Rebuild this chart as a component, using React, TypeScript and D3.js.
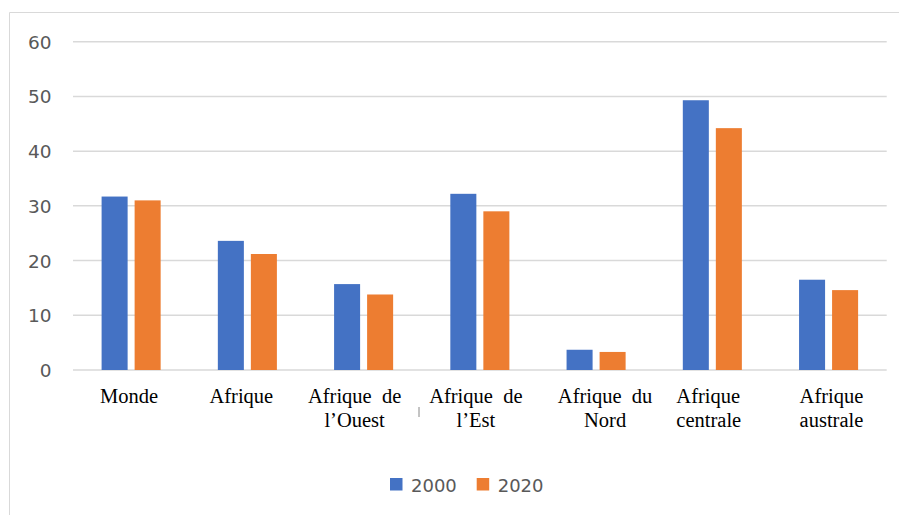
import * as d3 from "d3";
import React, { useEffect, useRef } from "react";

const categories = [
  ["Monde"],
  ["Afrique"],
  ["Afrique  de", "l\u2019Ouest"],
  ["Afrique  de", "l\u2019Est"],
  ["Afrique  du", "Nord"],
  ["Afrique", "centrale"],
  ["Afrique", "australe"],
];
const seriesNames = ["2000", "2020"];
const values2000 = [31.7, 23.6, 15.7, 32.2, 3.7, 49.3, 16.5];
const values2020 = [31.0, 21.2, 13.8, 29.0, 3.3, 44.2, 14.6];
const yTicks = [0, 10, 20, 30, 40, 50, 60];

// label placement tweaks (relative to category centre)
const labelLayout = [
  { dx: -2, anchor: "middle" },
  { dx: -6, anchor: "middle" },
  { dx: -9, anchor: "middle" },
  { dx: -4, anchor: "middle" },
  { dx: 9, anchor: "middle" },
  { dx: -36, anchor: "start" },
  { dx: -29, anchor: "start" },
];

const colors = ["#4472c4", "#ed7d31"];

const App = () => {
  const ref = useRef<SVGSVGElement | null>(null);

  useEffect(() => {
    document.body.style.margin = "0";
    const svg = d3.select(ref.current);
    svg.selectAll("*").remove();

    const width = 899;
    const height = 515;

    // chart frame
    svg
      .append("path")
      .attr("d", `M9.5,${height} L9.5,12.5 L${width},12.5`)
      .attr("fill", "none")
      .attr("stroke", "#d9d9d9")
      .attr("stroke-width", 1);

    const idx = categories.map((_, i) => i);
    const x0 = d3
      .scaleBand<number>()
      .domain(idx)
      .range([73, 886.7])
      .paddingInner(0.492)
      .paddingOuter(0.246);
    const x1 = d3
      .scaleBand<string>()
      .domain(seriesNames)
      .range([0, x0.bandwidth()])
      .paddingInner(0.212);
    const y = d3.scaleLinear().domain([0, 60]).range([370, 41.7]);

    // gridlines
    svg
      .append("g")
      .selectAll("line")
      .data(yTicks)
      .enter()
      .append("line")
      .attr("x1", 73)
      .attr("x2", 886.7)
      .attr("y1", (d) => y(d))
      .attr("y2", (d) => y(d))
      .attr("stroke", "#d9d9d9")
      .attr("stroke-width", 1.5);

    // y labels
    svg
      .append("g")
      .selectAll("text")
      .data(yTicks)
      .enter()
      .append("text")
      .attr("x", 51.5)
      .attr("y", (d) => y(d) + 7)
      .attr("text-anchor", "end")
      .style("font-family", "DejaVu Sans")
      .style("font-size", "18.5px")
      .attr("fill", "#595959")
      .text((d) => d);

    const series = [values2000, values2020];
    series.forEach((vals, s) => {
      svg
        .append("g")
        .selectAll("rect")
        .data(vals)
        .enter()
        .append("rect")
        .attr("x", (d, i) => (x0(i) as number) + (x1(seriesNames[s]) as number))
        .attr("y", (d) => y(d))
        .attr("width", x1.bandwidth())
        .attr("height", (d) => y(0) - y(d))
        .attr("fill", colors[s]);
    });

    // category labels
    const labels = svg
      .append("g")
      .selectAll("text")
      .data(categories)
      .enter()
      .append("text")
      .attr("text-anchor", (d, i) => labelLayout[i].anchor)
      .style("font-family", "Liberation Serif")
      .style("font-size", "20.5px")
      .style("white-space", "pre")
      .attr("fill", "#000");

    labels.each(function (lines, i) {
      const cx = (x0(i) as number) + x0.bandwidth() / 2 + labelLayout[i].dx;
      d3.select(this)
        .selectAll("tspan")
        .data(lines)
        .enter()
        .append("tspan")
        .attr("x", cx)
        .attr("y", (d, j) => 403 + j * 24)
        .text((d) => d);
    });

    // small stray mark
    svg
      .append("line")
      .attr("x1", 419)
      .attr("x2", 419)
      .attr("y1", 407)
      .attr("y2", 417)
      .attr("stroke", "#888")
      .attr("stroke-width", 1);

    // legend
    const legend = svg.append("g").attr("transform", "translate(390,478)");
    const legendItems = legend
      .selectAll("g")
      .data(seriesNames)
      .enter()
      .append("g")
      .attr("transform", (d, i) => `translate(${i * 86.7},0)`);
    legendItems
      .append("rect")
      .attr("width", 12.5)
      .attr("height", 12.5)
      .attr("fill", (d, i) => colors[i]);
    legendItems
      .append("text")
      .attr("x", 21)
      .attr("y", 13.5)
      .style("font-family", "DejaVu Sans")
      .style("font-size", "18px")
      .attr("fill", "#595959")
      .text((d) => d);
  }, []);

  return <svg ref={ref} width={899} height={515} style={{ display: "block" }} />;
};

export default App;
